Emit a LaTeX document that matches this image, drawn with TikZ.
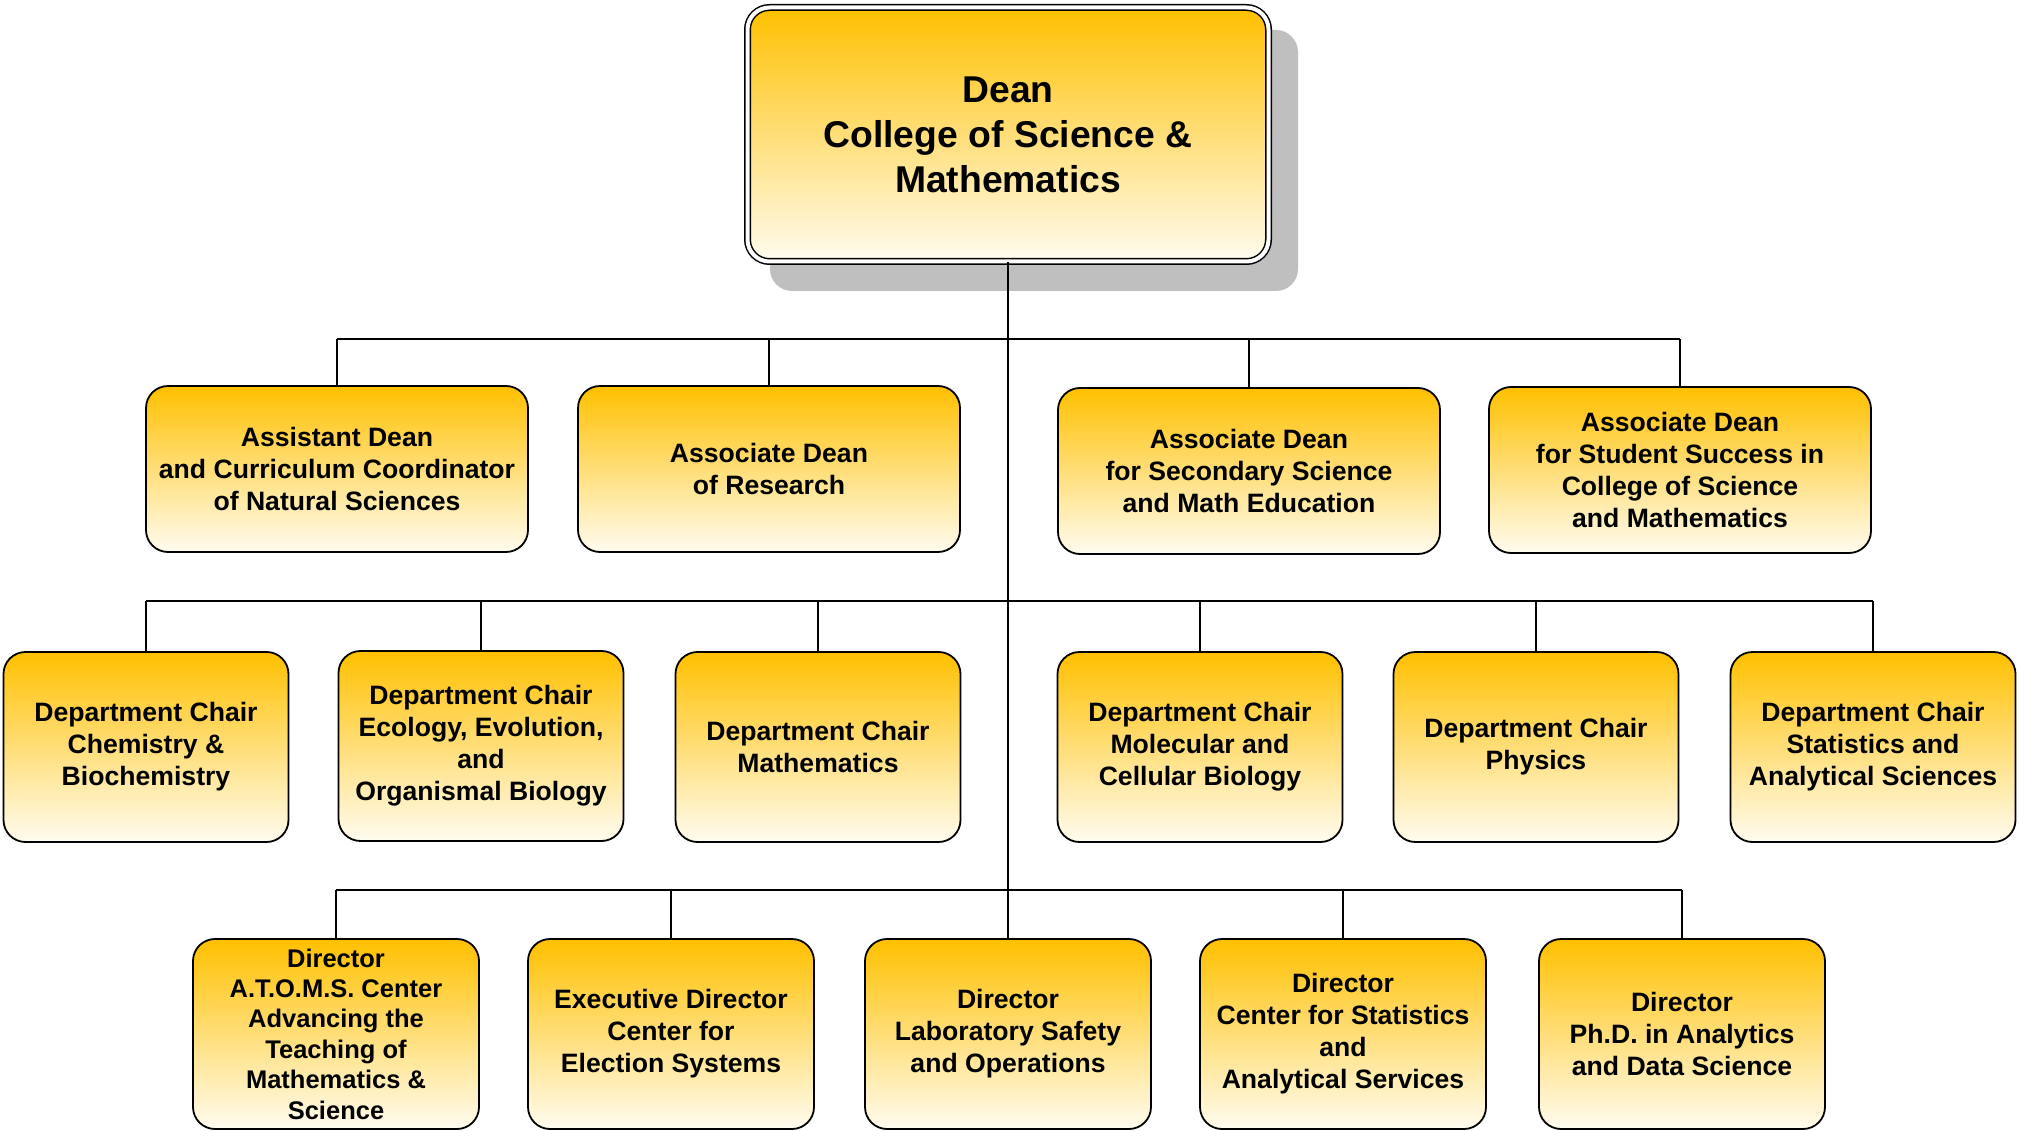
\documentclass[tikz,border=0pt]{standalone}
\usepackage{fontspec}
\setmainfont{Liberation Sans}
\definecolor{boxtop}{RGB}{255,192,0}
\definecolor{boxbot}{RGB}{255,252,240}
\definecolor{shadowgrey}{RGB}{191,191,191}
\begin{document}
\begin{tikzpicture}[x=1pt,y=-1pt,
  box/.style={draw=black, line width=1.8pt, rounded corners=22pt,
    top color=boxtop, bottom color=boxbot, align=center,
    font=\fontsize{26.6}{32}\selectfont\bfseries, inner sep=0pt},
  rowone/.style={box, minimum width=382pt, minimum height=166pt},
  rowtwo/.style={box, minimum width=285pt, minimum height=190pt},
  rowthree/.style={box, minimum width=286pt, minimum height=190pt},
  link/.style={line width=2.8pt}]
\useasboundingbox (0,0) rectangle (2019,1131);
% shadow of the dean box
\fill[shadowgrey, rounded corners=22pt] (770,30) rectangle (1298,291);
\node[box, minimum width=521pt, minimum height=254pt, line width=1.5pt,
  double=white, double distance=4pt,
  font=\fontsize{37.3}{45}\selectfont\bfseries] (dean) at (1008,134.5)
  {Dean\\College of Science \&\\Mathematics};
% bus coordinates
\coordinate (busone) at (1008,339);
\coordinate (bustwo) at (1008,601);
\coordinate (busthree) at (1008,890);
% row 1
\node[rowone] (a1) at (337,469) {Assistant Dean\\and Curriculum Coordinator\\of Natural Sciences};
\node[rowone] (a2) at (769,469) {Associate Dean\\of Research};
\node[rowone] (a3) at (1249,471) {Associate Dean\\for Secondary Science\\and Math Education};
\node[rowone] (a4) at (1680,470) {Associate Dean\\for Student Success in\\College of Science\\and Mathematics};
% row 2
\node[rowtwo] (b1) at (146,747) {Department Chair\\Chemistry \&\\Biochemistry};
\node[rowtwo] (b2) at (481,746) {Department Chair\\Ecology, Evolution,\\and\\Organismal Biology};
\node[rowtwo] (b3) at (818,747) {Department Chair\\Mathematics};
\node[rowtwo] (b4) at (1200,747) {Department Chair\\Molecular and\\Cellular Biology};
\node[rowtwo] (b5) at (1536,747) {Department Chair\\Physics};
\node[rowtwo] (b6) at (1873,747) {Department Chair\\Statistics and\\Analytical Sciences};
% row 3
\node[rowthree, font=\fontsize{25.5}{30.4}\selectfont\bfseries] (c1) at (336,1034) {Director\\A.T.O.M.S. Center\\Advancing the\\Teaching of\\Mathematics \&\\Science};
\node[rowthree] (c2) at (671,1034) {Executive Director\\Center for\\Election Systems};
\node[rowthree] (c3) at (1008,1034) {Director\\Laboratory Safety\\and Operations};
\node[rowthree] (c4) at (1343,1034) {Director\\Center for Statistics\\and\\Analytical Services};
\node[rowthree] (c5) at (1682,1034) {Director\\Ph.D. in Analytics\\and Data Science};
% connectors
\draw[link] (dean.south) -- (c3.north);
\draw[link] (a1.north |- busone) -- (a4.north |- busone);
\foreach \n in {a1,a2,a3,a4} \draw[link] (\n.north) -- (\n.north |- busone);
\draw[link] (b1.north |- bustwo) -- (b6.north |- bustwo);
\foreach \n in {b1,b2,b3,b4,b5,b6} \draw[link] (\n.north) -- (\n.north |- bustwo);
\draw[link] (c1.north |- busthree) -- (c5.north |- busthree);
\foreach \n in {c1,c2,c4,c5} \draw[link] (\n.north) -- (\n.north |- busthree);
\end{tikzpicture}
\end{document}
